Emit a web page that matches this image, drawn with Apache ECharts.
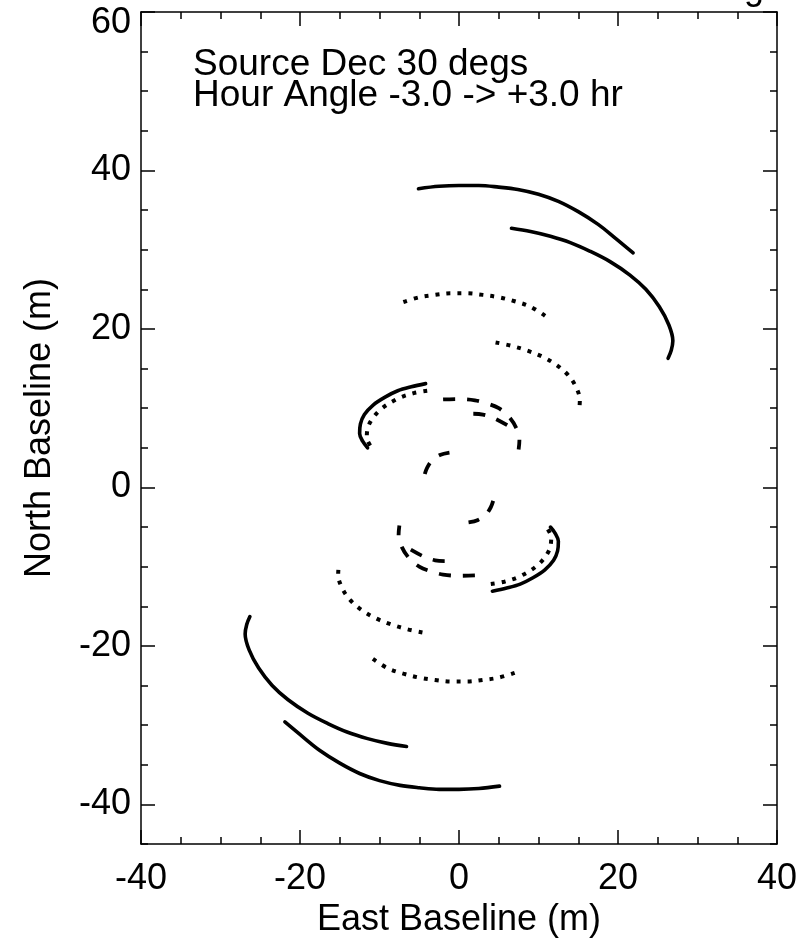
<!DOCTYPE html>
<html>
<head>
<meta charset="utf-8">
<script src="https://cdn.jsdelivr.net/npm/echarts@6/dist/echarts.min.js"></script>
<style>
html,body{margin:0;padding:0;background:#fff;}
#chart{width:807px;height:938px;}
</style>
</head>
<body>
<div id="chart"></div>
<script>
// ---- axis ticks / labels ----
var xMajorTicks = [-40, -20, 0, 20, 40];
var xMinorTicks = [-40,-35,-30,-25,-20,-15,-10,-5,0,5,10,15,20,25,30,35,40];
var yMajorTicks = [-40, -20, 0, 20, 40, 60];
var yMinorTicks = [-45,-40,-35,-30,-25,-20,-15,-10,-5,0,5,10,15,20,25,30,35,40,45,50,55,60];

var xTitle = 'East Baseline (m)';
var yTitle = 'North Baseline (m)';
var noteLines = ['Source Dec 30 degs', 'Hour Angle -3.0 -> +3.0 hr'];
var topTitle = 'UV Tracks for Antenna Ring';

// ---- baseline tracks (East, North) ----
// solid
var solidOuterUp   = [[-5.1,37.7],[-2.5,38.0],[0,38.1],[2.5,38.1],[5,37.9],[7.4,37.6],[10,37.0],[12.5,36.1],[15,34.8],[17.5,33.2],[19.5,31.6],[21.9,29.6]];
var solidOuterDown = [[5.1,-37.7],[2.5,-38.0],[0,-38.1],[-2.5,-38.1],[-5,-37.9],[-7.4,-37.6],[-10,-37.0],[-12.5,-36.1],[-15,-34.8],[-17.5,-33.2],[-19.5,-31.6],[-21.9,-29.6]];
var solidSecondUp   = [[6.6,32.7],[9,32.3],[11.5,31.7],[14,30.9],[16.5,29.8],[19,28.5],[21.5,26.8],[23.5,25.0],[25.2,22.8],[26.4,20.5],[26.9,18.5],[26.7,17.3],[26.3,16.3]];
var solidSecondDown = [[-6.6,-32.7],[-9,-32.3],[-11.5,-31.7],[-14,-30.9],[-16.5,-29.8],[-19,-28.5],[-21.5,-26.8],[-23.5,-25.0],[-25.2,-22.8],[-26.4,-20.5],[-26.9,-18.5],[-26.7,-17.3],[-26.3,-16.3]];
var solidInnerUp   = [[-4.2,13.1],[-6,12.7],[-7.7,12.2],[-9.3,11.4],[-10.8,10.4],[-11.9,9.2],[-12.4,8.0],[-12.5,6.8],[-12.1,5.8],[-11.5,5.0]];
var solidInnerDown = [[4.2,-13.1],[6,-12.7],[7.7,-12.2],[9.3,-11.4],[10.8,-10.4],[11.9,-9.2],[12.4,-8.0],[12.5,-6.8],[12.1,-5.8],[11.5,-5.0]];
// dotted
var dotArcAUp   = [[-7.0,23.4],[-5,24.0],[-3,24.3],[-1,24.5],[1,24.5],[3,24.3],[5,24.0],[7,23.5],[9,22.8],[10.9,21.6]];
var dotArcADown = [[7.0,-23.4],[5,-24.0],[3,-24.3],[1,-24.5],[-1,-24.5],[-3,-24.3],[-5,-24.0],[-7,-23.5],[-9,-22.8],[-10.9,-21.6]];
var dotArcBUp   = [[4.6,18.3],[6.5,17.9],[8.5,17.3],[10.5,16.5],[12.2,15.5],[13.7,14.2],[14.7,12.7],[15.2,11.0],[15.1,9.5]];
var dotArcBDown = [[-4.6,-18.3],[-6.5,-17.9],[-8.5,-17.3],[-10.5,-16.5],[-12.2,-15.5],[-13.7,-14.2],[-14.7,-12.7],[-15.2,-11.0],[-15.1,-9.5]];
var dotArcCUp   = [[-4.0,12.2],[-5.7,11.9],[-7.7,11.2],[-9.9,9.8],[-11.3,8.0],[-11.6,6.3],[-10.9,4.9]];
var dotArcCDown = [[4.0,-12.2],[5.7,-11.9],[7.7,-11.2],[9.9,-9.8],[11.3,-8.0],[11.6,-6.3],[10.9,-4.9]];
// dashed
var dashArcAUp   = [[-2.0,11.1],[0,11.15],[2,11.0],[3.5,10.6],[5,10.0],[6.3,8.9],[7.2,7.5],[7.6,6.0],[7.5,4.8]];
var dashArcADown = [[2.0,-11.1],[0,-11.15],[-2,-11.0],[-3.5,-10.6],[-5,-10.0],[-6.3,-8.9],[-7.2,-7.5],[-7.6,-6.0],[-7.5,-4.8]];
var dashArcBUp   = [[1.8,9.3],[3.0,9.2],[4.5,8.7],[6.5,7.6]];
var dashArcBDown = [[-1.8,-9.3],[-3.0,-9.2],[-4.5,-8.7],[-6.5,-7.6]];
var dashArcCUp   = [[-4.3,1.7],[-4.0,2.5],[-3.4,3.4],[-2.4,4.1],[-1.2,4.4]];
var dashArcCDown = [[4.3,-1.7],[4.0,-2.5],[3.4,-3.4],[2.4,-4.1],[1.2,-4.4]];

var FONT = 'Liberation Sans, Arial, Helvetica, sans-serif';

var solidStyle  = {color:'#000', width:3.6, type:'solid', cap:'round'};
var dottedStyle = {color:'#000', width:4, type:[4, 7], cap:'butt'};
var dashedStyle = {color:'#000', width:3.8, type:[12, 12], cap:'butt'};

var tracks = [
  [solidOuterUp, solidStyle], [solidOuterDown, solidStyle],
  [solidSecondUp, solidStyle], [solidSecondDown, solidStyle],
  [solidInnerUp, solidStyle], [solidInnerDown, solidStyle],
  [dotArcAUp, dottedStyle], [dotArcADown, dottedStyle],
  [dotArcBUp, dottedStyle], [dotArcBDown, dottedStyle],
  [dotArcCUp, dottedStyle], [dotArcCDown, dottedStyle],
  [dashArcAUp, dashedStyle], [dashArcADown, dashedStyle],
  [dashArcBUp, dashedStyle], [dashArcBDown, dashedStyle],
  [dashArcCUp, dashedStyle], [dashArcCDown, dashedStyle]
];

var series = tracks.map(function(t){
  return {type:'line', data:t[0], symbol:'none', smooth:0.35, lineStyle:t[1],
          xAxisIndex:0, yAxisIndex:0, silent:true, animation:false};
});

function xAxisDef(pos, ticks, len, showLabel, showLine, name){
  return {
    type:'value', position:pos, min:-40, max:40, interval:5,
    axisLine:{show:showLine, onZero:false, lineStyle:{color:'#000', width:1.5}},
    axisTick:{show:true, inside:true, length:len, customValues:ticks, lineStyle:{color:'#000', width:1.5}},
    axisLabel: showLabel ? {show:true, customValues:xMajorTicks, fontSize:36, color:'#000', fontFamily:FONT, margin:17,
       formatter:function(v){return (v % 20 === 0) ? String(v) : '';}} : {show:false},
    splitLine:{show:false},
    name: name || '', nameLocation:'middle', nameGap:49,
    nameTextStyle:{fontSize:36, color:'#000', fontFamily:FONT}
  };
}
function yAxisDef(pos, ticks, len, showLabel, showLine, name){
  var maxVal = yMajorTicks[yMajorTicks.length - 1];
  return {
    type:'value', position:pos, min:-45, max:60, interval:5,
    axisLine:{show:showLine, onZero:false, lineStyle:{color:'#000', width:1.5}},
    axisTick:{show:true, inside:true, length:len, customValues:ticks, lineStyle:{color:'#000', width:1.5}},
    axisLabel: showLabel ? {show:true, customValues:yMajorTicks, fontSize:36, color:'#000', fontFamily:FONT, margin:10,
       formatter:function(v){
         if (v % 20 !== 0) return '';
         return v === maxVal ? '{top|' + v + '}' : String(v);
       },
       rich:{top:{fontSize:36, color:'#000', fontFamily:FONT, padding:[22,0,0,0]}}} : {show:false},
    splitLine:{show:false},
    name: name || '', nameLocation:'middle', nameGap:83, nameRotate:90,
    nameTextStyle:{fontSize:36, color:'#000', fontFamily:FONT}
  };
}

var chart = echarts.init(document.getElementById('chart'), null, {renderer:'canvas'});
chart.setOption({
  backgroundColor:'#fff',
  animation:false,
  grid:{left:141, right:30, top:12, bottom:94, containLabel:false, outerBoundsMode:'none'},
  xAxis:[
    xAxisDef('bottom', xMinorTicks, 7, true, true, xTitle),
    xAxisDef('bottom', xMajorTicks, 14, false, false),
    xAxisDef('top', xMinorTicks, 7, false, true),
    xAxisDef('top', xMajorTicks, 14, false, false)
  ],
  yAxis:[
    yAxisDef('left', yMinorTicks, 7, true, true, yTitle),
    yAxisDef('left', yMajorTicks, 14, false, false),
    yAxisDef('right', yMinorTicks, 7, false, true),
    yAxisDef('right', yMajorTicks, 14, false, false)
  ],
  graphic:[
    {type:'text', left:193, top:46, silent:true,
     style:{text:noteLines.join('\n'), font:'37px ' + FONT, fill:'#000', lineHeight:31}},
    {type:'text', silent:true, z:10,
     style:{text:topTitle, x:764, y:7, align:'right', verticalAlign:'bottom', font:'36px ' + FONT, fill:'#000'}}
  ],
  series:series
});
</script>
</body>
</html>
